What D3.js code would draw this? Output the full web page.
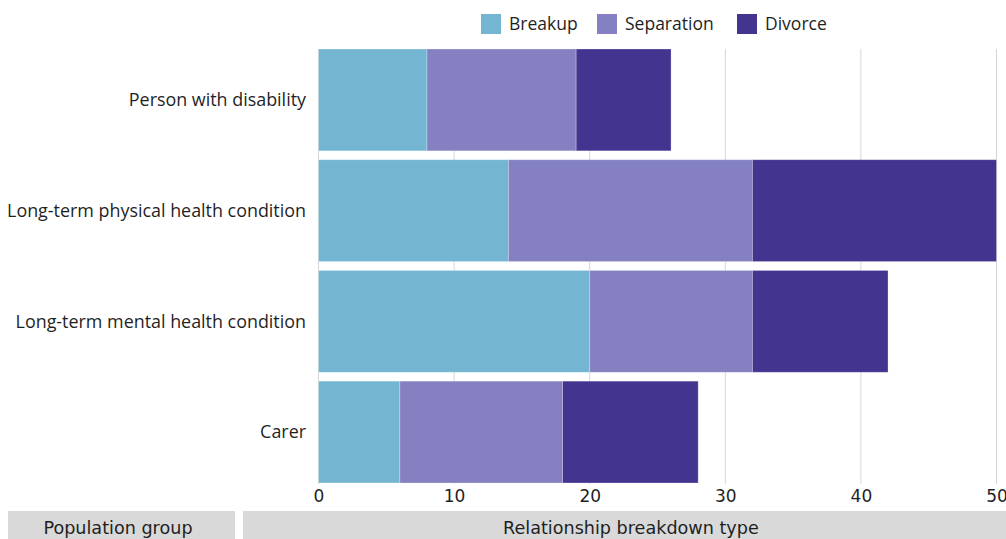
<!DOCTYPE html>
<html>
<head>
<meta charset="utf-8">
<script src="https://cdn.jsdelivr.net/npm/d3@7"></script>
<style>
  html, body { margin: 0; padding: 0; background: #fff; }
  svg { display: block; }
  text { fill: #1f1f1f; }
</style>
</head>
<body>
<svg id="chart" width="1006" height="539"></svg>
<script>
// Population groups, top to bottom
const groups = [
  "Person with disability",
  "Long-term physical health condition",
  "Long-term mental health condition",
  "Carer"
];
// Relationship breakdown types (stack order, left to right)
const types = ["Breakup", "Separation", "Divorce"];
// Values per group for each type
const breakup    = [8, 14, 20, 6];
const separation = [11, 18, 12, 12];
const divorce    = [7, 18, 10, 10];
// Axis ticks
const xTicks = [0, 10, 20, 30, 40, 50];
const colors = ["#74b5d2", "#8480c2", "#433490"];

const rows = groups.map((g, i) => ({
  group: g,
  Breakup: breakup[i],
  Separation: separation[i],
  Divorce: divorce[i]
}));

const svg = d3.select("#chart");
const fontMain = "'Open Sans', 'Noto Sans', sans-serif";
const fontWide = "'DejaVu Sans', sans-serif";

const x = d3.scaleLinear().domain([0, 50]).range([318.5, 996.5]);
const y = d3.scaleBand().domain(groups).range([49, 483]).paddingInner(0.08).paddingOuter(0);
const color = d3.scaleOrdinal().domain(types).range(colors);

// Vertical gridlines
svg.append("g")
  .selectAll("line")
  .data(xTicks)
  .join("line")
  .attr("x1", d => x(d)).attr("x2", d => x(d))
  .attr("y1", 49).attr("y2", 484)
  .attr("stroke", "#d6d6d6")
  .attr("stroke-width", 1);

// Stacked bars
const stacked = d3.stack().keys(types)(rows);
svg.append("g")
  .selectAll("g")
  .data(stacked)
  .join("g")
  .attr("fill", d => color(d.key))
  .selectAll("rect")
  .data(d => d)
  .join("rect")
  .attr("x", d => x(d[0]))
  .attr("y", d => y(d.data.group))
  .attr("width", d => x(d[1]) - x(d[0]))
  .attr("height", y.bandwidth())
  .attr("stroke", "rgba(255,255,255,0.35)")
  .attr("stroke-width", 0.8);

// Category labels
svg.append("g")
  .selectAll("text")
  .data(groups)
  .join("text")
  .attr("x", 306)
  .attr("y", d => y(d) + y.bandwidth() / 2)
  .attr("dy", "0.35em")
  .attr("text-anchor", "end")
  .attr("font-family", fontMain)
  .attr("font-size", 17.9)
  .text(d => d);

// X axis tick labels
const xAxis = d3.axisBottom(x).tickValues(xTicks).tickSize(0).tickPadding(0);
const gx = svg.append("g").attr("transform", "translate(0,490)").call(xAxis);
gx.select(".domain").remove();
gx.selectAll("text")
  .attr("font-family", fontWide)
  .attr("font-size", 17)
  .attr("fill", "#1f1f1f")
  .attr("dy", "0.71em");

// Header bars at the bottom
const headers = [
  { label: "Population group", x0: 8, x1: 235 },
  { label: "Relationship breakdown type", x0: 243, x1: 1006 }
];
const hg = svg.append("g");
hg.selectAll("rect")
  .data(headers)
  .join("rect")
  .attr("x", d => d.x0).attr("y", 511)
  .attr("width", d => d.x1 - d.x0).attr("height", 28)
  .attr("fill", "#d9d9d9");
hg.selectAll("text")
  .data(headers)
  .join("text")
  .attr("x", (d, i) => i === 0 ? 118 : 503)
  .attr("y", 528)
  .attr("dy", "0.35em")
  .attr("text-anchor", (d, i) => i === 0 ? "middle" : "start")
  .attr("font-family", fontWide)
  .attr("font-size", 17.6)
  .text(d => d.label);

// Legend
const legendX = [481, 597, 737];
const lg = svg.append("g");
const items = lg.selectAll("g")
  .data(types)
  .join("g")
  .attr("transform", (d, i) => `translate(${legendX[i]},14)`);
items.append("rect")
  .attr("width", 20).attr("height", 20)
  .attr("fill", d => color(d));
items.append("text")
  .attr("x", 28).attr("y", 10)
  .attr("dy", "0.35em")
  .attr("font-family", fontMain)
  .attr("font-size", 17.5)
  .text(d => d);
</script>
</body>
</html>
